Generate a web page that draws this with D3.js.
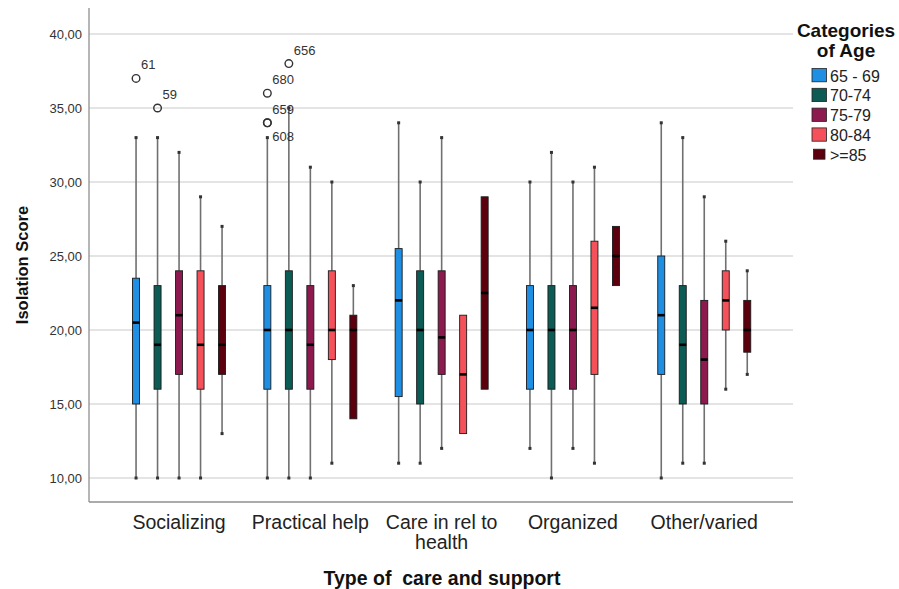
<!DOCTYPE html>
<html>
<head>
<meta charset="utf-8">
<script src="https://cdn.jsdelivr.net/npm/d3@7"></script>
<style>
  html, body { margin: 0; padding: 0; background: #fff; }
  svg { display: block; font-family: "Liberation Sans", Arial, sans-serif; }
</style>
</head>
<body>
<svg id="chart" width="899" height="589"></svg>
<script>
// ---- data ----
const categories = ["Socializing", "Practical help", "Care in rel to health", "Organized", "Other/varied"];
const ageGroups = ["65 - 69", "70-74", "75-79", "80-84", ">=85"];
const ageColors = ["#1f8fe3", "#0c5b55", "#8c1a4f", "#f4515b", "#5c000e"];
const yTicks = [10, 15, 20, 25, 30, 35, 40];

// each entry: [min, q1, median, q3, max] per category
const stats65_69 = [[10, 15, 20.5, 23.5, 33], [10, 16, 20, 23, 33], [11, 15.5, 22, 25.5, 34], [12, 16, 20, 23, 30], [10, 17, 21, 25, 34]];
const stats70_74 = [[10, 16, 19, 23, 33], [10, 16, 20, 24, 35], [11, 15, 20, 24, 30], [10, 16, 20, 23, 32], [11, 15, 19, 23, 33]];
const stats75_79 = [[10, 17, 21, 24, 32], [10, 16, 19, 23, 31], [12, 17, 19.5, 24, 33], [12, 16, 20, 23, 30], [11, 15, 18, 22, 29]];
const stats80_84 = [[10, 16, 19, 24, 29], [11, 18, 20, 24, 30], [13, 13, 17, 21, 21], [11, 17, 21.5, 26, 31], [16, 20, 22, 24, 26]];
const stats85plus = [[13, 17, 19, 23, 27], [14, 14, 20, 21, 23], [16, 16, 22.5, 29, 29], [23, 23, 25, 27, 27], [17, 18.5, 20, 22, 24]];
const allStats = [stats65_69, stats70_74, stats75_79, stats80_84, stats85plus];

// outliers: category index, age index, value, case label, label side
const outliers = [
  { cat: 0, age: 0, value: 37, label: "61", side: "above" },
  { cat: 0, age: 1, value: 35, label: "59", side: "above" },
  { cat: 1, age: 0, value: 36, label: "680", side: "above" },
  { cat: 1, age: 0, value: 34, label: "659", side: "above" },
  { cat: 1, age: 0, value: 34, label: "608", side: "below" },
  { cat: 1, age: 1, value: 38, label: "656", side: "above" }
];

// ---- layout ----
const svg = d3.select("#chart");
const plotLeft = 89, plotRight = 793, plotTop = 8, plotBottom = 502;

const y = d3.scaleLinear().domain([10, 40]).range([478, 34]);
const x = d3.scaleBand().domain(categories).range([113.4, 769.9]).paddingInner(0).paddingOuter(0);
const xInner = d3.scaleBand().domain(ageGroups).range([-53.75, 53.75]);
const color = d3.scaleOrdinal().domain(ageGroups).range(ageColors);
const boxW = 7;

// gridlines
svg.append("g")
  .selectAll("line")
  .data(yTicks)
  .join("line")
  .attr("x1", plotLeft).attr("x2", plotRight)
  .attr("y1", d => y(d)).attr("y2", d => y(d))
  .attr("stroke", "#c9c9c9").attr("stroke-width", 1.2);

// y axis
const yAxis = d3.axisLeft(y).tickValues(yTicks).tickSize(0).tickPadding(7)
  .tickFormat(d => d3.format(".2f")(d).replace(".", ","));
const yg = svg.append("g").attr("transform", `translate(${plotLeft},0)`).call(yAxis);
yg.select(".domain").remove();
yg.selectAll("text").attr("font-size", 13).attr("fill", "#333")
  .attr("font-family", "'Liberation Sans', Arial, sans-serif");

// axis lines
svg.append("line").attr("x1", plotLeft).attr("x2", plotLeft).attr("y1", plotTop).attr("y2", plotBottom)
  .attr("stroke", "#8f8f8f").attr("stroke-width", 1.3);
svg.append("line").attr("x1", plotLeft).attr("x2", plotRight).attr("y1", plotBottom).attr("y2", plotBottom)
  .attr("stroke", "#8f8f8f").attr("stroke-width", 1.3);

// boxes
const boxData = [];
allStats.forEach((arr, ai) => {
  arr.forEach((s, ci) => {
    boxData.push({ cat: categories[ci], age: ageGroups[ai], min: s[0], q1: s[1], med: s[2], q3: s[3], max: s[4] });
  });
});
const cx = d => x(d.cat) + x.bandwidth() / 2 + xInner(d.age) + xInner.bandwidth() / 2;

const gBox = svg.append("g");
const bx = gBox.selectAll("g.box").data(boxData).join("g").attr("class", "box");

// whiskers
bx.filter(d => d.max > d.q3).append("line")
  .attr("x1", cx).attr("x2", cx).attr("y1", d => y(d.q3)).attr("y2", d => y(d.max))
  .attr("stroke", "#707070").attr("stroke-width", 1.6);
bx.filter(d => d.min < d.q1).append("line")
  .attr("x1", cx).attr("x2", cx).attr("y1", d => y(d.q1)).attr("y2", d => y(d.min))
  .attr("stroke", "#707070").attr("stroke-width", 1.6);
// whisker end caps
bx.filter(d => d.max > d.q3).append("rect")
  .attr("x", d => cx(d) - 1.5).attr("y", d => y(d.max) - 1.5).attr("width", 3).attr("height", 3)
  .attr("fill", "#333");
bx.filter(d => d.min < d.q1).append("rect")
  .attr("x", d => cx(d) - 1.5).attr("y", d => y(d.min) - 1.5).attr("width", 3).attr("height", 3)
  .attr("fill", "#333");
// box
bx.append("rect")
  .attr("x", d => cx(d) - boxW / 2).attr("width", boxW)
  .attr("y", d => y(d.q3)).attr("height", d => y(d.q1) - y(d.q3))
  .attr("fill", d => color(d.age)).attr("stroke", "#1a1a1a").attr("stroke-width", 0.9);
// median
bx.append("line")
  .attr("x1", d => cx(d) - boxW / 2).attr("x2", d => cx(d) + boxW / 2)
  .attr("y1", d => y(d.med)).attr("y2", d => y(d.med))
  .attr("stroke", "#000").attr("stroke-width", 2.6);

// outliers
const oc = d => x(categories[d.cat]) + x.bandwidth() / 2 + xInner(ageGroups[d.age]) + xInner.bandwidth() / 2;
const go = svg.append("g");
go.selectAll("circle").data(outliers).join("circle")
  .attr("cx", oc).attr("cy", d => y(d.value)).attr("r", 3.8)
  .attr("fill", "none").attr("stroke", "#333").attr("stroke-width", 1.4);
go.selectAll("text").data(outliers).join("text")
  .attr("x", d => oc(d) + 5)
  .attr("y", d => y(d.value) + (d.side === "above" ? -9 : 18))
  .attr("font-size", 13).attr("fill", "#333")
  .text(d => d.label);

// x category labels
const gx = svg.append("g");
const catLabels = {
  "Care in rel to health": ["Care in rel to", "health"]
};
categories.forEach(c => {
  const lines = catLabels[c] || [c];
  const t = gx.append("text")
    .attr("x", x(c) + x.bandwidth() / 2).attr("y", 529)
    .attr("text-anchor", "middle").attr("font-size", 19.5).attr("fill", "#222");
  lines.forEach((ln, i) => {
    t.append("tspan").attr("x", x(c) + x.bandwidth() / 2).attr("dy", i === 0 ? 0 : 20).text(ln);
  });
});

// axis titles
svg.append("text")
  .attr("x", 442).attr("y", 585).attr("text-anchor", "middle")
  .attr("font-size", 19.5).attr("font-weight", "bold").attr("fill", "#111")
  .attr("xml:space", "preserve")
  .text("Type of  care and support");

svg.append("text")
  .attr("transform", "translate(28,265) rotate(-90)")
  .attr("text-anchor", "middle")
  .attr("font-size", 16.5).attr("font-weight", "bold").attr("fill", "#111")
  .text("Isolation Score");

// legend
const lg = svg.append("g");
lg.append("text").attr("x", 846).attr("y", 36.5).attr("text-anchor", "middle")
  .attr("font-size", 19).attr("font-weight", "bold").attr("fill", "#111").text("Categories");
lg.append("text").attr("x", 846).attr("y", 56.5).attr("text-anchor", "middle")
  .attr("font-size", 19).attr("font-weight", "bold").attr("fill", "#111").text("of Age");

const li = lg.selectAll("g.item").data(ageGroups).join("g").attr("class", "item")
  .attr("transform", (d, i) => `translate(0,${68.5 + i * 19.8})`);
li.append("rect")
  .attr("x", (d, i) => i === 4 ? 813.5 : 812)
  .attr("y", (d, i) => i === 4 ? 1.5 : 0)
  .attr("width", (d, i) => i === 4 ? 11.5 : 14.5)
  .attr("height", (d, i) => i === 4 ? 10 : 13.3)
  .attr("fill", d => color(d)).attr("stroke", "#222").attr("stroke-width", 0.8);
li.append("text").attr("x", 830).attr("y", 13).attr("font-size", 16).attr("fill", "#222")
  .text(d => d);
</script>
</body>
</html>
